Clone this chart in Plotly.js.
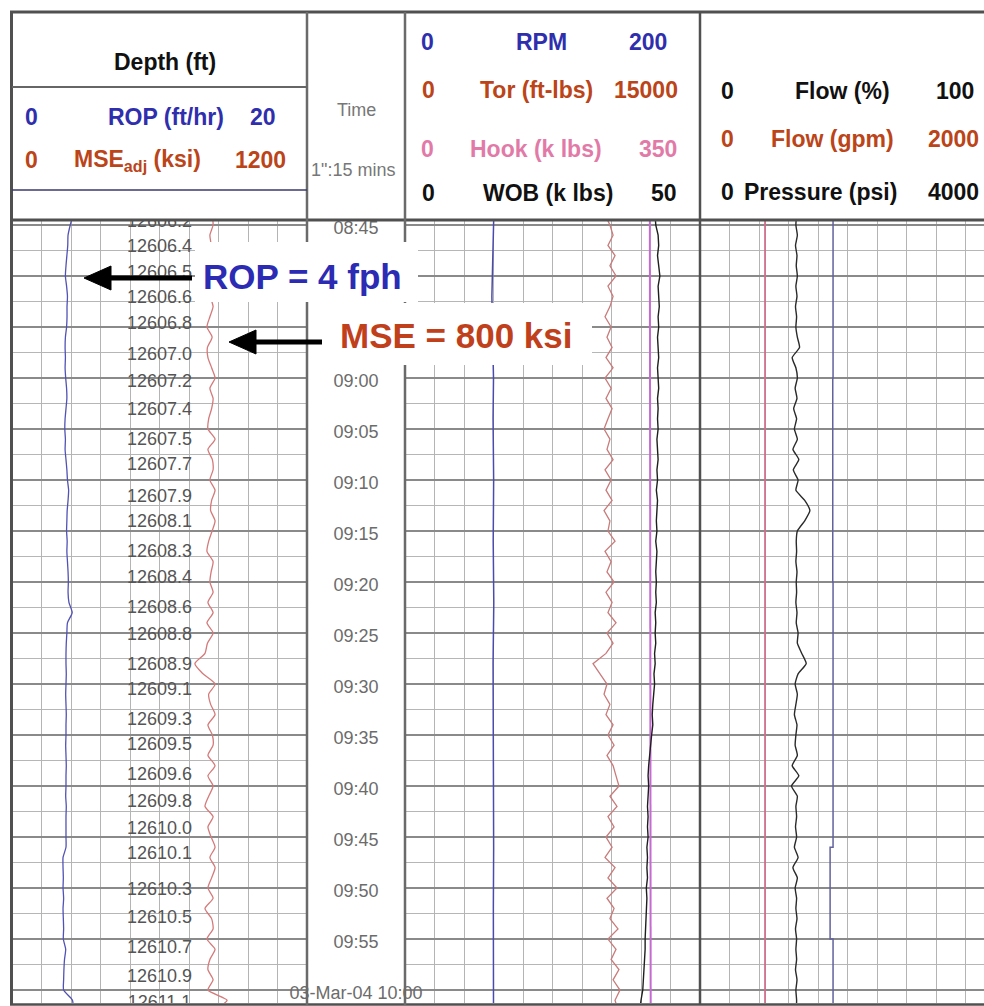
<!DOCTYPE html>
<html><head><meta charset="utf-8">
<script src="https://cdn.plot.ly/plotly-3.0.1.min.js"></script>
<style>html,body{margin:0;padding:0;background:#fff;}#chart{width:984px;height:1006px;}</style>
</head><body><div id="chart"></div>
<script>
// ---------------- DATA ----------------
// time in minutes after 08:00 (03-Mar-04)
const timeMin = [44,45,46,47,48,49,50,51,52,53,54,55,56,57,58,59,60,61,62,63,64,65,66,67,68,69,70,71,72,73,74,75,76,77,78,79,80,81,82,83,84,85,86,87,88,89,90,91,92,93,94,95,96,97,98,99,100,101,102,103,104,105,106,107,108,109,110,111,112,113,114,115,116,117,118,119,120,121,122];
const rop = [4.14,3.95,3.80,3.78,3.72,3.66,3.62,3.70,3.76,3.73,
  3.73,3.70,3.62,3.60,3.62,3.60,3.64,3.70,3.72,3.66,
  3.60,3.58,3.62,3.60,3.66,3.72,3.76,3.84,3.80,3.74,
  3.72,3.70,3.74,3.72,3.76,3.80,3.82,3.80,3.86,4.08,
  3.76,3.72,3.68,3.66,3.66,3.68,3.66,3.64,3.66,3.68,
  3.66,3.66,3.64,3.66,3.68,3.66,3.66,3.64,3.68,3.66,
  3.66,3.66,3.66,3.46,3.46,3.48,3.46,3.50,3.46,3.48,
  3.50,3.48,3.64,3.56,3.52,3.50,3.50,4.10,4.14];
const mse = [814,818,805,810,800,815,805,820,808,818,
  805,793,814,795,797,812,826,805,818,812,
  800,797,826,797,815,818,805,826,812,808,
  826,814,800,793,818,810,805,818,797,818,
  793,818,795,785,744,777,826,800,808,826,
  797,815,818,797,826,797,818,800,785,818,
  797,810,826,805,826,812,797,818,785,812,
  818,793,826,805,797,818,797,875,818];
const torque = [10170,10420,10580,10320,10680,10420,10730,10320,10580,10420,
  10170,10480,10270,10530,10220,10580,10170,10480,10220,10530,
  10320,10120,10420,10270,10580,10170,10480,10220,10530,10120,
  10420,10320,10680,10170,10480,10270,10630,10220,10530,10320,
  10730,10270,10580,10220,9560,9900,10270,10120,10420,10220,
  10580,10320,10630,10270,10580,10730,10880,10420,10780,10320,
  10630,10220,10530,10170,10680,10320,10780,10270,10630,10420,
  10830,10320,10730,10480,10880,10580,10930,10680,10830];
const wob = [42.4,42.5,42.9,43.0,42.8,43.0,43.2,42.9,43.0,43.1,
  42.9,43.0,42.8,42.9,43.0,42.8,42.9,43.0,42.8,42.9,
  42.8,42.9,42.7,42.8,42.9,42.7,42.8,42.6,42.8,42.7,
  42.6,42.7,42.5,42.7,42.6,42.5,42.6,42.5,42.6,42.4,
  42.5,42.4,42.5,42.3,42.4,42.2,42.3,42.1,42.0,41.9,
  42.0,41.8,41.6,41.4,41.3,41.2,41.3,41.2,41.1,41.2,
  41.1,41.2,41.0,41.1,41.0,41.1,40.9,41.0,40.9,40.8,
  40.8,40.7,40.7,40.6,40.6,40.5,40.3,40.0,39.8];
const pressure = [1310,1300,1320,1295,1315,1305,1320,1300,1315,1295,
  1310,1300,1320,1350,1250,1300,1320,1290,1315,1270,
  1310,1280,1320,1260,1340,1265,1330,1300,1420,1490,
  1420,1320,1305,1310,1300,1315,1305,1310,1300,1315,
  1305,1330,1320,1380,1440,1330,1290,1320,1300,1280,
  1315,1300,1290,1320,1250,1340,1240,1320,1300,1310,
  1295,1310,1280,1330,1260,1320,1290,1310,1300,1315,
  1295,1310,1300,1310,1295,1315,1300,1310,1305];
const rpmTime = [44,48,52,56,60,64,70,76,82,88,94,100,106,112,118,122];
const rpm = [60.2,59.6,58.9,59.4,60.0,59.7,60.1,59.8,60.2,59.7,60.0,59.8,60.1,59.9,60.2,60.0];
const hookTime = [44,70,95,105,122];
const hook = [290.5,290.6,290.8,291.3,291.5];
const flowGpmTime = [44,80,122];
const flowGpm = [441,440,441];
const flowPctTime = [44,60,80,100,106,107,115,116,122];
const flowPct = [45.2,45.1,45.0,45.1,45.1,44.1,44.1,45.1,45.1];

const depthTime = [44.80,47.25,49.71,52.16,54.80,57.75,60.49,63.14,66.08,68.53,71.67,74.12,77.06,79.61,82.55,85.20,88.14,90.59,93.53,95.98,98.92,101.57,104.31,106.76,110.20,112.94,115.88,118.73,121.27];
const depthLabels = ['12606.2','12606.4','12606.5','12606.6','12606.8','12607.0','12607.2','12607.4','12607.5','12607.7','12607.9','12608.1','12608.3','12608.4','12608.6','12608.8','12608.9','12609.1','12609.3','12609.5','12609.6','12609.8','12610.0','12610.1','12610.3','12610.5','12610.7','12610.9','12611.1'];
const timeTickTime = [45,60,65,70,75,80,85,90,95,100,105,110,115,120];
const timeTickLabels = ['08:45','09:00','09:05','09:10','09:15','09:20','09:25','09:30','09:35','09:40','09:45','09:50','09:55','03-Mar-04 10:00'];

const curveNames = ['ROP (ft/hr)','MSE<sub>adj</sub> (ksi)','RPM','Tor (ft-lbs)','Hook (k lbs)','WOB (k lbs)','Flow (%)','Flow (gpm)','Pressure (psi)'];
const curveMin = [0,0,0,0,0,0,0,0,0];
const curveMax = [20,1200,200,15000,350,50,100,2000,4000];
const timeRange = [121.27, 44.61];
const noteTexts = ['ROP = 4 fph','MSE = 800 ksi'];

// ---------------- LAYOUT HELPERS ----------------
const L = 12, R = 984, T = 221, B = 1003;
const px = x => (x - L) / (R - L);
const py = y => (B - y) / (B - T);
const f3 = (984 - 700) / 295;   // visible part of the right track

const cBlue = '#2f2fae', cRed = '#bb4418', cPink = '#e27aa8', cBlack = '#111', cGray = '#6c6c6c';
const headerColors = [cBlue, cRed, cBlue, cRed, cPink, cBlack, cBlack, cRed, cBlack];
const lineColors = ['#5252b4','#d47a7a','#4b4bad','#c97b7b','#c46ad0','#1e1e1e','#62629e','#cf6f8c','#2a2a2a'];

function baseX(dom, max, full, anchor) {
  return {domain: dom, range: [0, max], anchor: anchor, showgrid: true, gridcolor: '#b4b4b4', gridwidth: 1,
    tick0: 0, dtick: full / 10, showticklabels: false, ticks: '', zeroline: false, showline: false, fixedrange: true};
}
function overX(base, max, anchor) {
  return {overlaying: base, range: [0, max], anchor: anchor, visible: false, fixedrange: true};
}
function baseY(anchor) {
  return {domain: [0, 1], range: timeRange, anchor: anchor, showgrid: true, gridcolor: '#8a8a8a', gridwidth: 1.4,
    tick0: 0, dtick: 5, minor: {dtick: 2.5, showgrid: true, gridcolor: '#b6b6b6', gridwidth: 1},
    showticklabels: false, ticks: '', zeroline: false, showline: false, fixedrange: true};
}

const traces = [
  {x: rop, y: timeMin, xaxis: 'x', yaxis: 'y', mode: 'lines', line: {color: lineColors[0], width: 1.3, shape: 'spline', smoothing: 0.6}},
  {x: mse, y: timeMin, xaxis: 'x2', yaxis: 'y', mode: 'lines', line: {color: lineColors[1], width: 1.3, shape: 'spline', smoothing: 0.6}},
  {x: depthTime.map(() => (curveMin[0] + curveMax[0]) / 2), y: depthTime, text: depthLabels, xaxis: 'x', yaxis: 'y',
    mode: 'text', textposition: 'middle center', cliponaxis: true,
    textfont: {family: 'Liberation Sans, Arial, sans-serif', size: 18, color: '#555'}},
  {x: rpm, y: rpmTime, xaxis: 'x3', yaxis: 'y2', mode: 'lines', line: {color: lineColors[2], width: 1.5}},
  {x: torque, y: timeMin, xaxis: 'x4', yaxis: 'y2', mode: 'lines', line: {color: lineColors[3], width: 1.3}},
  {x: hook, y: hookTime, xaxis: 'x5', yaxis: 'y2', mode: 'lines', line: {color: lineColors[4], width: 2}},
  {x: wob, y: timeMin, xaxis: 'x6', yaxis: 'y2', mode: 'lines', line: {color: lineColors[5], width: 1.4}},
  {x: flowPct, y: flowPctTime, xaxis: 'x7', yaxis: 'y3', mode: 'lines', line: {color: lineColors[6], width: 1.5, shape: 'hv'}},
  {x: flowGpm, y: flowGpmTime, xaxis: 'x8', yaxis: 'y3', mode: 'lines', line: {color: lineColors[7], width: 1.8}},
  {x: pressure, y: timeMin, xaxis: 'x9', yaxis: 'y3', mode: 'lines', line: {color: lineColors[8], width: 1.4, shape: 'spline', smoothing: 0.5}},
  {x: timeTickTime.map(() => 0.5), y: timeTickTime.map(t => t + 0.4), text: timeTickLabels, xaxis: 'x10', yaxis: 'y4',
    mode: 'text', textposition: 'middle center', cliponaxis: false,
    textfont: {family: 'Liberation Sans, Arial, sans-serif', size: 18, color: cGray}}
];

const layout = {
  width: 984, height: 1006, margin: {l: L, r: 984 - R, t: T, b: 1006 - B, pad: 0},
  paper_bgcolor: '#fff', plot_bgcolor: '#fff', showlegend: false,
  font: {family: 'Liberation Sans, Arial, sans-serif'},
  xaxis: baseX([px(12), px(307)], curveMax[0], curveMax[0], 'y'),
  xaxis2: overX('x', curveMax[1], 'y'),
  yaxis: baseY('x'),
  xaxis3: baseX([px(405), px(700)], curveMax[2], curveMax[2], 'y2'),
  xaxis4: overX('x3', curveMax[3], 'y2'),
  xaxis5: overX('x3', curveMax[4], 'y2'),
  xaxis6: overX('x3', curveMax[5], 'y2'),
  yaxis2: baseY('x3'),
  xaxis7: baseX([px(700), 1], curveMax[6] * f3, curveMax[6], 'y3'),
  xaxis8: overX('x7', curveMax[7] * f3, 'y3'),
  xaxis9: overX('x7', curveMax[8] * f3, 'y3'),
  yaxis3: baseY('x7'),
  xaxis10: {domain: [px(307), px(405)], range: [0, 1], anchor: 'y4', visible: false, fixedrange: true},
  yaxis4: {domain: [0, 1], range: timeRange, anchor: 'x10', visible: false, fixedrange: true},
  shapes: [], annotations: []
};

function hline(y, x0, x1, color, w) {
  layout.shapes.push({type: 'line', xref: 'paper', yref: 'paper', x0: px(x0), x1: px(x1), y0: py(y), y1: py(y),
    line: {color: color, width: w}, layer: 'above'});
}
function vline(x, y0, y1, color, w) {
  layout.shapes.push({type: 'line', xref: 'paper', yref: 'paper', x0: px(x), x1: px(x), y0: py(y0), y1: py(y1),
    line: {color: color, width: w}, layer: 'above'});
}
function box(x0, x1, y0, y1) {
  layout.shapes.push({type: 'rect', xref: 'paper', yref: 'paper', x0: px(x0), x1: px(x1), y0: py(y0), y1: py(y1),
    fillcolor: '#fff', line: {width: 0}, layer: 'above'});
}
function arrowLeft(tipX, y, tailX) {
  // shaft
  hline(y, tipX + 20, tailX, '#000', 5);
  // filled head
  const hx = tipX + 27, hh = 12;
  layout.shapes.push({type: 'path', xref: 'paper', yref: 'paper', layer: 'above',
    path: 'M' + px(tipX) + ',' + py(y) + ' L' + px(hx) + ',' + py(y - hh) + ' L' + px(hx) + ',' + py(y + hh) + ' Z',
    fillcolor: '#000', line: {color: '#000', width: 1}});
}
function txt(x, y, s, color, size, bold) {
  layout.annotations.push({xref: 'paper', yref: 'paper', x: px(x), y: py(y), xanchor: 'center', yanchor: 'middle',
    text: bold ? '<b>' + s + '</b>' : s, showarrow: false,
    font: {family: 'Liberation Sans, Arial, sans-serif', size: size, color: color}});
}

// frame
vline(11.5, 11, 1005, '#505050', 3);
hline(12, 10, 984, '#505050', 3);
hline(220, 10, 984, '#505050', 3);
hline(1004.5, 10, 984, '#505050', 2.5);
vline(307, 12, 1005, '#6a6a6a', 2.5);
vline(405, 12, 1005, '#6a6a6a', 2.5);
vline(700, 12, 1005, '#505050', 2.5);
hline(87, 12, 307, '#666', 2);
hline(190, 12, 307, '#3a3a6e', 1.5);

// header
const hs = 23;
txt(165, 62, 'Depth (ft)', cBlack, hs, true);
const rowSpec = [
  // [curve index, y, x of min, x of name, x of max]
  [0, 117, 31, 166, 263],
  [1, 160, 31, 137, 260],
  [2, 42, 427, 541, 648],
  [3, 90, 428, 536, 646],
  [4, 149, 427, 536, 658],
  [5, 193, 428, 548, 664],
  [6, 91, 727, 842, 955],
  [7, 139, 727, 832, 953],
  [8, 192, 727, 820, 953]
];
rowSpec.forEach(r => {
  const i = r[0], c = headerColors[i];
  txt(r[2], r[1], String(curveMin[i]), c, hs, true);
  txt(r[3], r[1], curveNames[i], c, hs, true);
  txt(r[4], r[1], String(curveMax[i]), c, hs, true);
});
txt(356, 110, 'Time', '#777', 18, false);
txt(353, 170, '1":15 mins', '#777', 18, false);

// callout boxes (opaque), arrows and callout texts
box(195, 418, 242, 302);
box(322, 592, 303, 365);
arrowLeft(84, 278, 192);
arrowLeft(229, 342, 322);
txt(302, 276, noteTexts[0], '#2b2bb4', 35, true);
txt(456, 335, noteTexts[1], '#c0401c', 35, true);

Plotly.newPlot('chart', traces, layout, {displayModeBar: false, staticPlot: true});
</script>
</body></html>
